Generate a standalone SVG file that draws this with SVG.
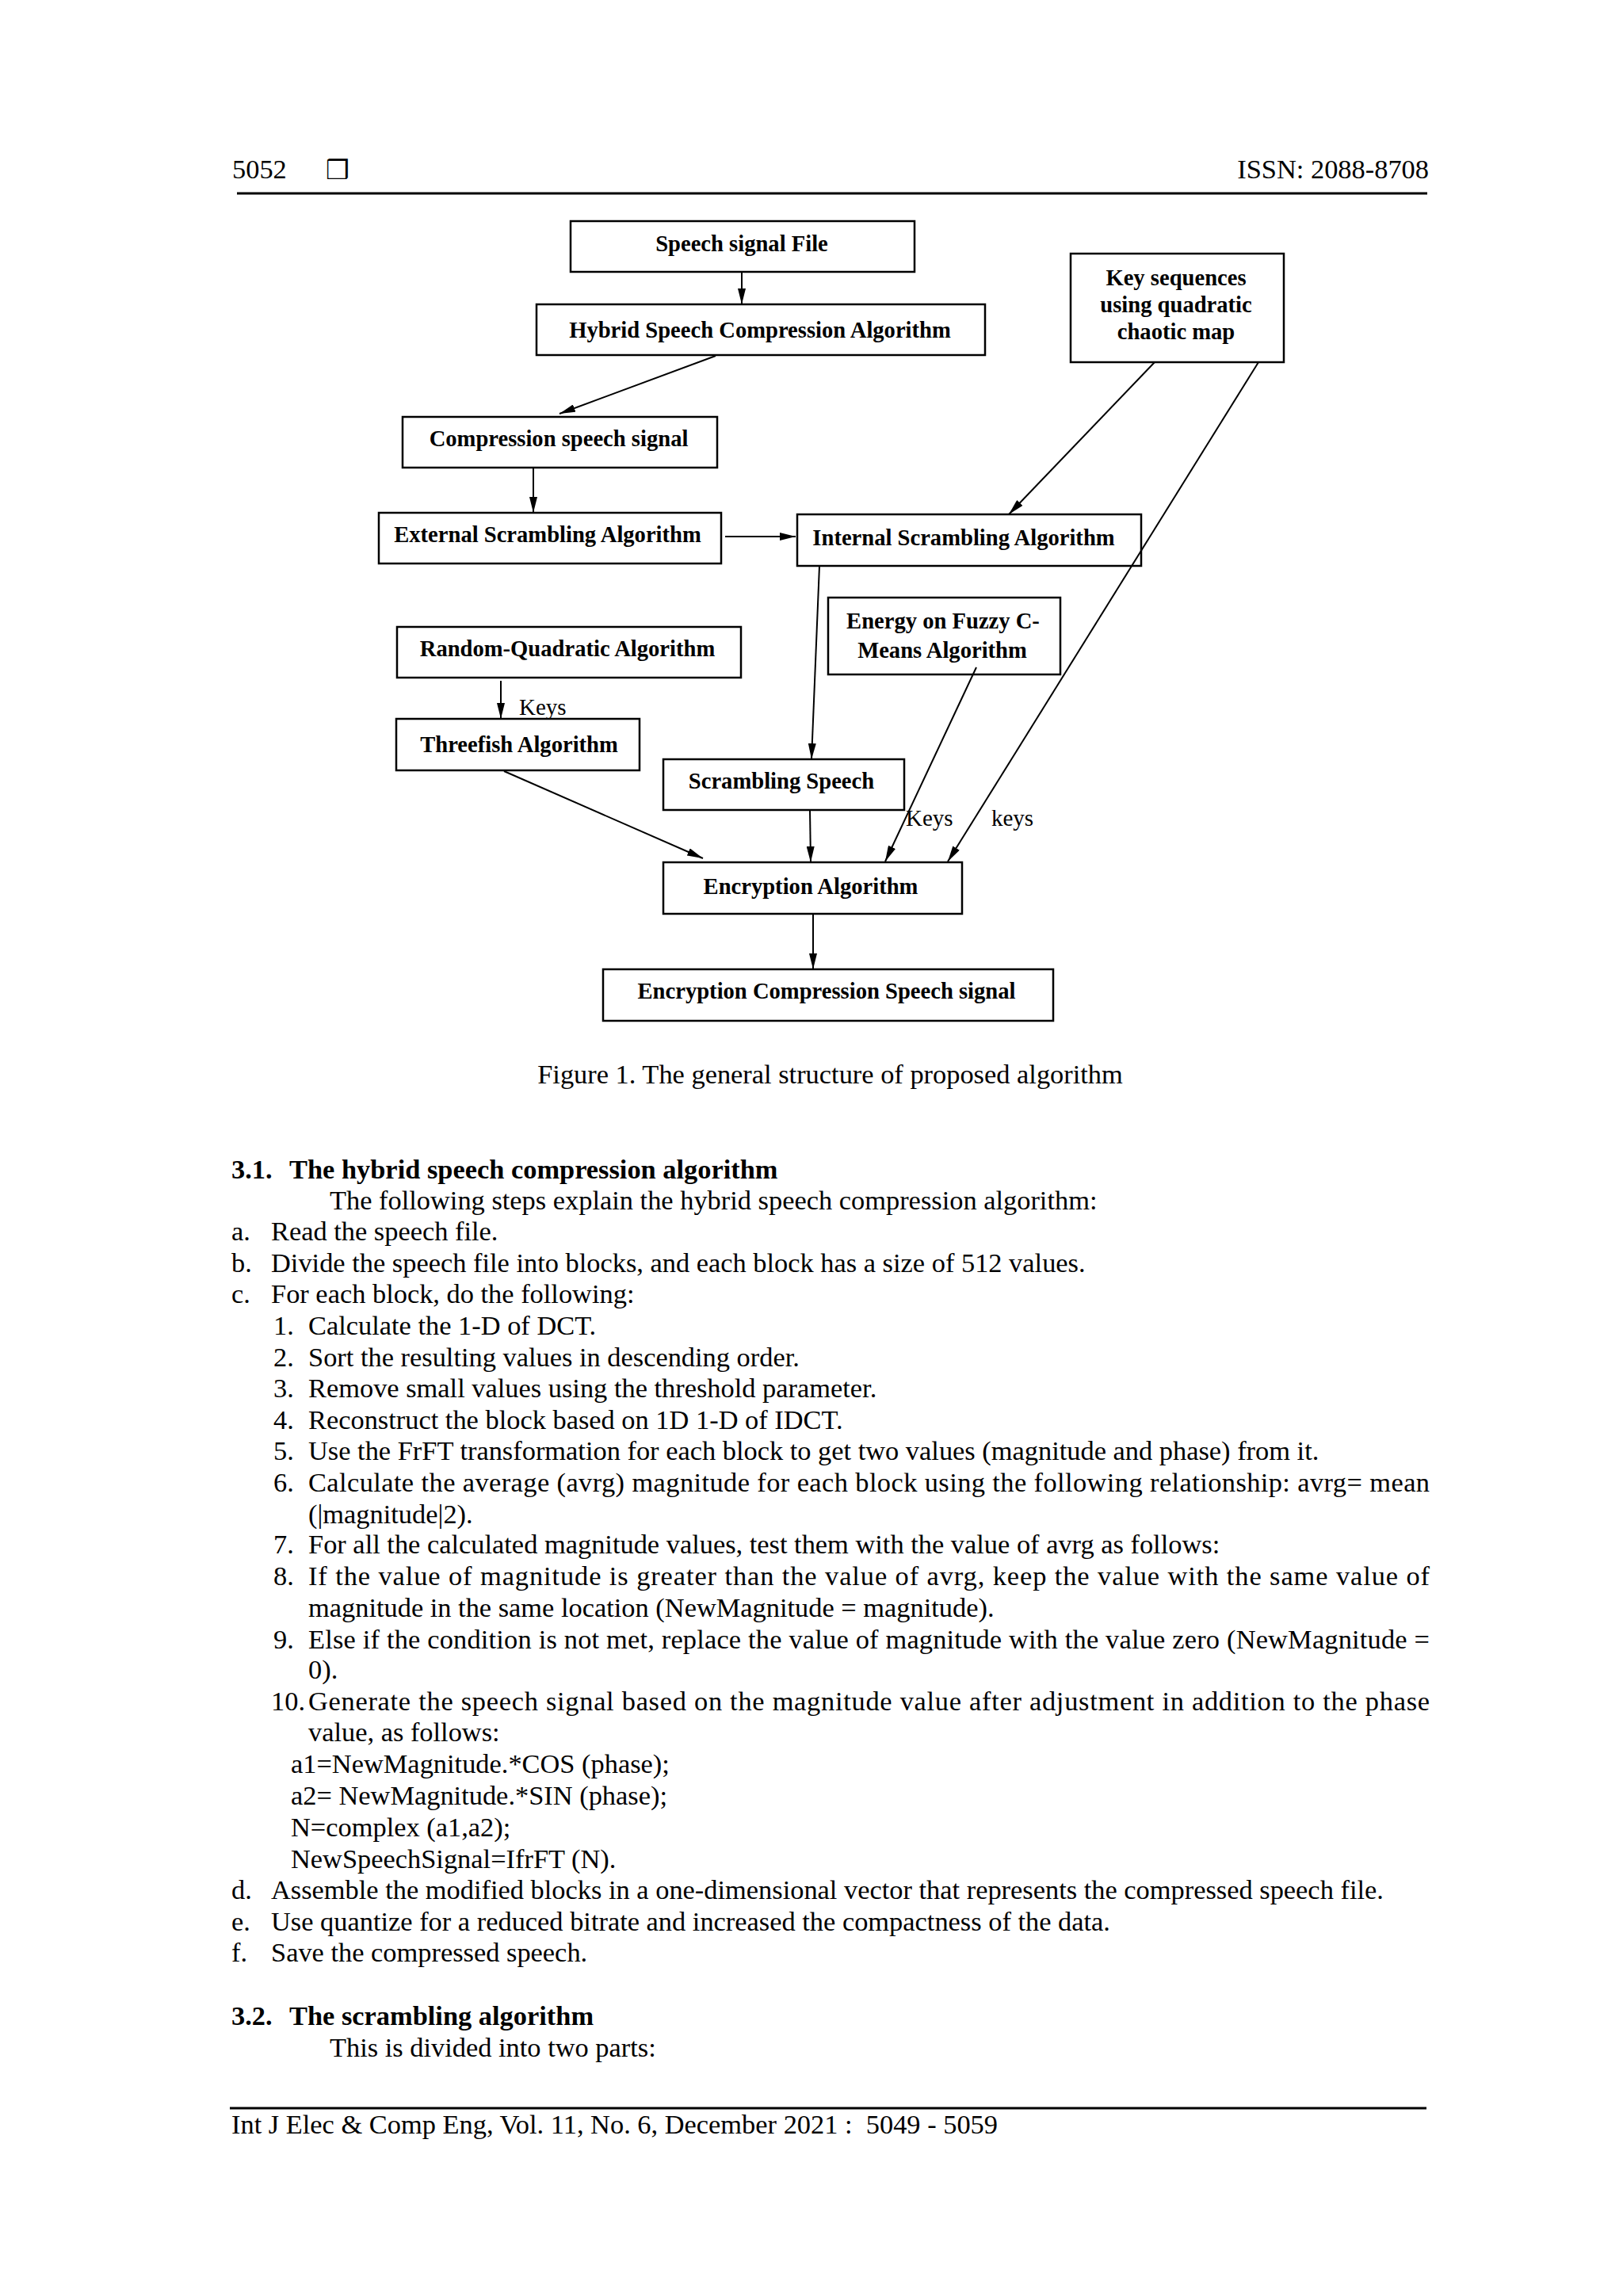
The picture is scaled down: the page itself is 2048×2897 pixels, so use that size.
<svg xmlns="http://www.w3.org/2000/svg" width="2048" height="2897" viewBox="0 0 2048 2897">
<defs>
<style>
.bx{fill:#fff;stroke:#000;stroke-width:2.5}
.bt{font-family:"Liberation Serif","Times New Roman",serif;font-weight:bold;font-size:28.6px;text-anchor:middle;fill:#000}
.lb{font-family:"Liberation Serif","Times New Roman",serif;font-size:29px;fill:#000}
.c{fill:none;stroke:#000;stroke-width:2}
.t{font-family:"Liberation Serif","Times New Roman",serif;font-size:34.4px;fill:#000}
.h{font-family:"Liberation Serif","Times New Roman",serif;font-size:34.4px;font-weight:bold;fill:#000}
</style>
<marker id="ah" markerUnits="userSpaceOnUse" markerWidth="20" markerHeight="10" refX="20" refY="5" orient="auto">
<path d="M0,0 L20,5 L0,10 z" fill="#000"/>
</marker>
</defs>
<rect width="2048" height="2897" fill="#fff"/>

<g id="header">
<text class="t" x="293" y="225">5052</text>
<text x="411" y="226" style="font-family:'DejaVu Sans',sans-serif;font-size:33px;font-weight:bold">❒</text>
<text class="t" x="1803" y="225" text-anchor="end">ISSN: 2088-8708</text>
<line x1="299" y1="244" x2="1801" y2="244" stroke="#000" stroke-width="3"/>
</g>

<g id="n-speech"><rect class="bx" x="720" y="279" width="434" height="64"/><text class="bt" x="936" y="317">Speech signal File</text></g>
<g id="n-hybrid"><rect class="bx" x="677" y="384" width="566" height="64"/><text class="bt" x="959" y="426">Hybrid Speech Compression Algorithm</text></g>
<g id="n-key"><rect class="bx" x="1351" y="320" width="269" height="137"/>
<text class="bt" x="1484" y="360">Key sequences</text>
<text class="bt" x="1484" y="394">using quadratic</text>
<text class="bt" x="1484" y="428">chaotic map</text></g>
<g id="n-compression"><rect class="bx" x="508" y="526" width="397" height="64"/><text class="bt" x="705" y="563">Compression speech signal</text></g>
<g id="n-external"><rect class="bx" x="478" y="647" width="432" height="64"/><text class="bt" x="691" y="684">External Scrambling Algorithm</text></g>
<g id="n-internal"><rect class="bx" x="1006" y="649" width="434" height="65"/><text class="bt" x="1216" y="688">Internal Scrambling Algorithm</text></g>
<g id="n-energy"><rect class="bx" x="1045" y="754" width="293" height="97"/>
<text class="bt" x="1190" y="793">Energy on Fuzzy C-</text>
<text class="bt" x="1189" y="830">Means Algorithm</text></g>
<g id="n-random"><rect class="bx" x="501" y="791" width="434" height="64"/><text class="bt" x="716" y="828">Random-Quadratic  Algorithm</text></g>
<g id="n-threefish"><rect class="bx" x="500" y="907" width="307" height="65"/><text class="bt" x="655" y="949">Threefish Algorithm</text></g>
<g id="n-scrambling"><rect class="bx" x="837" y="958" width="304" height="64"/><text class="bt" x="986" y="995">Scrambling Speech</text></g>
<g id="n-encryption"><rect class="bx" x="837" y="1088" width="377" height="65"/><text class="bt" x="1023" y="1128">Encryption Algorithm</text></g>
<g id="n-final"><rect class="bx" x="761" y="1223" width="568" height="65"/><text class="bt" x="1043" y="1260">Encryption Compression Speech signal</text></g>

<g id="connectors">
<path class="c" d="M936,343 L936,384" marker-end="url(#ah)"/>
<path class="c" d="M903,449 L706,522" marker-end="url(#ah)"/>
<path class="c" d="M673,590 L673,647" marker-end="url(#ah)"/>
<path class="c" d="M915,677 L1004,677" stroke-width="3" marker-end="url(#ah)"/>
<path class="c" d="M1457,457 L1273,649" marker-end="url(#ah)"/>
<path class="c" d="M1588,457 L1196,1087" marker-end="url(#ah)"/>
<path class="c" d="M1034,714 L1024,958" marker-end="url(#ah)"/>
<path class="c" d="M1232,842 L1117,1087" marker-end="url(#ah)"/>
<path class="c" d="M632,859 L632,907" marker-end="url(#ah)"/>
<path class="c" d="M636,973 L887,1083" marker-end="url(#ah)"/>
<path class="c" d="M1022,1022 L1023,1088" marker-end="url(#ah)"/>
<path class="c" d="M1026,1153 L1026,1223" marker-end="url(#ah)"/>
<text class="lb" x="655" y="902">Keys</text>
<text class="lb" x="1143" y="1042">Keys</text>
<text class="lb" x="1251" y="1042">keys</text>
</g>

<g id="caption">
<text class="t" x="1047.5" y="1367" text-anchor="middle">Figure 1. The general structure of proposed algorithm</text>
</g>

<g id="body">
<text class="h" x="292" y="1487">3.1.</text><text class="h" x="365" y="1487">The hybrid speech compression algorithm</text>
<text class="t" x="416" y="1526">The following steps explain the hybrid speech compression algorithm:</text>
<text class="t" x="292" y="1565">a.</text><text class="t" x="342" y="1565">Read the speech file.</text>
<text class="t" x="292" y="1605">b.</text><text class="t" x="342" y="1605">Divide the speech file into blocks, and each block has a size of 512 values.</text>
<text class="t" x="292" y="1644">c.</text><text class="t" x="342" y="1644">For each block, do the following:</text>
<text class="t" x="345" y="1684">1.</text><text class="t" x="389" y="1684">Calculate the 1-D of DCT.</text>
<text class="t" x="345" y="1724">2.</text><text class="t" x="389" y="1724">Sort the resulting values in descending order.</text>
<text class="t" x="345" y="1763">3.</text><text class="t" x="389" y="1763">Remove small values using the threshold parameter.</text>
<text class="t" x="345" y="1803">4.</text><text class="t" x="389" y="1803">Reconstruct the block based on 1D 1-D of IDCT.</text>
<text class="t" x="345" y="1842">5.</text><text class="t" x="389" y="1842">Use the FrFT transformation for each block to get two values (magnitude and phase) from it.</text>
<text class="t" x="345" y="1882">6.</text><text class="t" x="389" y="1882" textLength="1415" lengthAdjust="spacing">Calculate the average (avrg) magnitude for each block using the following relationship: avrg= mean</text>
<text class="t" x="389" y="1922">(|magnitude|2).</text>
<text class="t" x="345" y="1960">7.</text><text class="t" x="389" y="1960">For all the calculated magnitude values, test them with the value of avrg as follows:</text>
<text class="t" x="345" y="2000">8.</text><text class="t" x="389" y="2000" textLength="1415" lengthAdjust="spacing">If the value of magnitude is greater than the value of avrg, keep the value with the same value of</text>
<text class="t" x="389" y="2040">magnitude in the same location (NewMagnitude = magnitude).</text>
<text class="t" x="345" y="2080">9.</text><text class="t" x="389" y="2080" textLength="1415" lengthAdjust="spacing">Else if the condition is not met, replace the value of magnitude with the value zero (NewMagnitude =</text>
<text class="t" x="389" y="2118">0).</text>
<text class="t" x="342" y="2158">10.</text><text class="t" x="389" y="2158" textLength="1415" lengthAdjust="spacing">Generate the speech signal based on the magnitude value after adjustment in addition to the phase</text>
<text class="t" x="389" y="2197">value, as follows:</text>
<text class="t" x="367" y="2237">a1=NewMagnitude.*COS (phase);</text>
<text class="t" x="367" y="2277">a2= NewMagnitude.*SIN (phase);</text>
<text class="t" x="367" y="2317">N=complex (a1,a2);</text>
<text class="t" x="367" y="2357">NewSpeechSignal=IfrFT (N).</text>
<text class="t" x="292" y="2396">d.</text><text class="t" x="342" y="2396">Assemble the modified blocks in a one-dimensional vector that represents the compressed speech file.</text>
<text class="t" x="292" y="2436">e.</text><text class="t" x="342" y="2436">Use quantize for a reduced bitrate and increased the compactness of the data.</text>
<text class="t" x="292" y="2475">f.</text><text class="t" x="342" y="2475">Save the compressed speech.</text>
<text class="h" x="292" y="2555">3.2.</text><text class="h" x="365" y="2555">The scrambling algorithm</text>
<text class="t" x="416" y="2595">This is divided into two parts:</text>
</g>

<g id="footer">
<line x1="290" y1="2660" x2="1800" y2="2660" stroke="#000" stroke-width="3"/>
<text class="t" x="292" y="2692" xml:space="preserve">Int J Elec &amp; Comp Eng, Vol. 11, No. 6, December 2021 :  5049 - 5059</text>
</g>
</svg>
